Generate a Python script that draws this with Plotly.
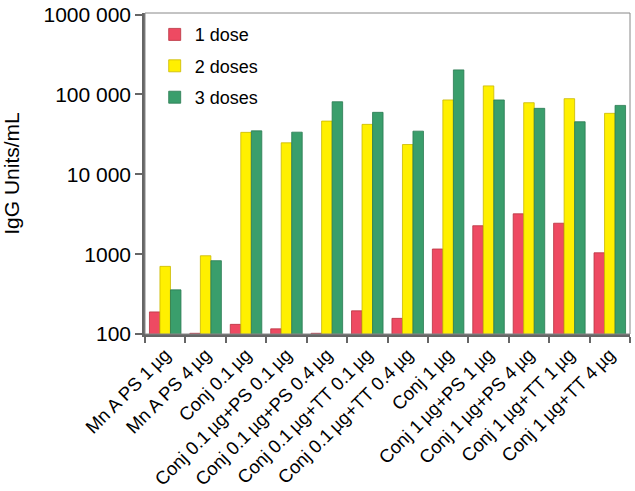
import plotly.graph_objects as go

categories = ["Mn A PS 1\u2009µg", "Mn A PS 4\u2009µg", "Conj 0.1\u2009µg", "Conj 0.1\u2009µg+PS 0.1\u2009µg",
              "Conj 0.1\u2009µg+PS 0.4\u2009µg", "Conj 0.1\u2009µg+TT 0.1\u2009µg", "Conj 0.1\u2009µg+TT 0.4\u2009µg",
              "Conj 1\u2009µg", "Conj 1\u2009µg+PS 1\u2009µg", "Conj 1\u2009µg+PS 4\u2009µg",
              "Conj 1\u2009µg+TT 1\u2009µg", "Conj 1\u2009µg+TT 4\u2009µg"]
dose1 = [189, 102, 132, 116, 102, 195, 157, 1160, 2270, 3200, 2440, 1040]
dose2 = [703, 955, 33500, 24800, 46400, 42200, 23600, 85300, 128000, 78800, 88500, 58000]
dose3 = [357, 828, 35000, 33700, 81000, 59700, 34700, 203000, 85300, 67000, 45500, 72900]

tick_vals = [100, 1000, 10000, 100000, 1000000]
tick_text = ["100", "1000", "10 000", "100 000", "1000 000"]

series = [("1 dose", dose1, "#EE4A62", "#B8323F"),
          ("2 doses", dose2, "#FFF000", "#C9B800"),
          ("3 doses", dose3, "#3A9E6C", "#2A7A52")]

fig = go.Figure()
for name, vals, col, edge in series:
    fig.add_trace(go.Bar(x=categories, y=vals, name=name, legendgroup=name,
                         marker=dict(color=col, line=dict(color=edge, width=0.8))))

fig.update_layout(
    width=635, height=491,
    margin=dict(l=145, r=5, t=13, b=157, autoexpand=False),
    paper_bgcolor="white", plot_bgcolor="white",
    barmode="group", bargap=0.22, bargroupgap=0.0,
    font=dict(family="Liberation Sans, Arial, sans-serif", color="black"),
    showlegend=True,
    legend=dict(x=0.02, y=0.99, xanchor="left", yanchor="top",
                bgcolor="rgba(0,0,0,0)", font=dict(size=18), tracegroupgap=5,
                itemwidth=30),
    xaxis=dict(tickangle=-45, tickfont=dict(size=18.5), ticks="outside", ticklen=6,
               tickwidth=2, tickcolor="#666", tickson="boundaries",
               showline=True, linecolor="#666", linewidth=2.5, showgrid=False,
               automargin=False),
    yaxis=dict(type="log", range=[2, 6.02], tickvals=tick_vals, ticktext=tick_text,
               tickfont=dict(size=21), ticks="outside", ticklen=7, tickwidth=1.5,
               tickcolor="#666", showline=True, linecolor="#666", linewidth=2.5,
               showgrid=False, zeroline=False, automargin=False,
               title=dict(text="IgG Units/mL", font=dict(size=21), standoff=20)),
    shapes=[dict(type="rect", xref="paper", yref="paper", x0=0, y0=0, x1=1, y1=1,
                 line=dict(color="#888", width=1), layer="above")],
)

fig.write_html("out.html", config={"displayModeBar": False},
               post_script="document.body.style.margin='0';")
